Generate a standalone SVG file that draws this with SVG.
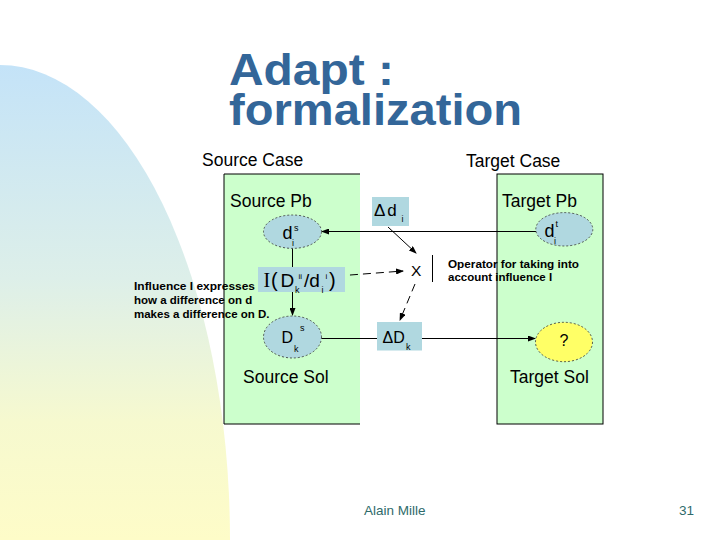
<svg xmlns="http://www.w3.org/2000/svg" width="720" height="540" viewBox="0 0 720 540">
<defs>
<linearGradient id="bg" x1="0" y1="0" x2="0" y2="1">
<stop offset="0" stop-color="#c4e3f8"/>
<stop offset="0.45" stop-color="#ddefe9"/>
<stop offset="0.75" stop-color="#f6f9cf"/>
<stop offset="1" stop-color="#fefcc8"/>
</linearGradient>
<marker id="ah" markerWidth="8" markerHeight="6" refX="7" refY="3" orient="auto" markerUnits="userSpaceOnUse">
<path d="M0,0 L8,3 L0,6 z" fill="#000"/>
</marker>
<style>
text{font-family:"Liberation Sans",Arial,sans-serif;fill:#000}
.title{font-size:44px;font-weight:bold;fill:#336699}
.lbl{font-size:17.5px}
.note{font-size:11.5px;font-weight:bold}
.foot{font-size:13.5px;fill:#2f6b6b}
.bx{fill:#b0d8e0}
.el{fill:#b0d8e0;stroke:#333;stroke-width:0.8;stroke-dasharray:2 2}
.case{fill:#ccffcc;stroke:#000;stroke-width:1}
.c{stroke:#000;stroke-width:1;fill:none}
.d{stroke-dasharray:8 5}
.sym{font-size:18px}
.sub{font-size:9px}
.sup{font-size:8px}
</style>
</defs>
<path d="M0,65 A230,475 0 0 1 230,540 L0,540 Z" fill="url(#bg)"/>
<g id="title">
<text class="title" x="229" y="85" textLength="165" lengthAdjust="spacingAndGlyphs">Adapt :</text>
<text class="title" x="229" y="125" textLength="293" lengthAdjust="spacingAndGlyphs">formalization</text>
</g>
<g id="source-case">
<text class="lbl" x="202" y="166">Source Case</text>
<path d="M360,174 H224 V424 H360" fill="#ccffcc" stroke="#000" stroke-width="1"/>
<text class="lbl" x="230" y="207">Source Pb</text>
<text class="lbl" x="243" y="383">Source Sol</text>
</g>
<g id="target-case">
<text class="lbl" x="466" y="167">Target Case</text>
<rect class="case" x="497" y="174" width="106" height="250"/>
<text class="lbl" x="502" y="207">Target Pb</text>
<text class="lbl" x="510" y="383">Target Sol</text>
</g>
<g id="connectors">
<line class="c" x1="536" y1="231.5" x2="322" y2="231.5" marker-end="url(#ah)"/>
<line class="c" x1="292.5" y1="248" x2="292.5" y2="267"/>
<line class="c" x1="292.5" y1="292" x2="292.5" y2="315" marker-end="url(#ah)"/>
<line class="c" x1="321.5" y1="338.5" x2="377" y2="338.5"/>
<line class="c" x1="422" y1="338.5" x2="535" y2="338.5" marker-end="url(#ah)"/>
<line class="c" x1="388" y1="227" x2="416" y2="253" marker-end="url(#ah)"/>
<line class="c d" x1="337" y1="276" x2="403" y2="271" marker-end="url(#ah)"/>
<line class="c d" x1="415" y1="284" x2="400" y2="320" marker-end="url(#ah)"/>
<line class="c" x1="432.5" y1="255" x2="432.5" y2="282"/>
</g>
<g id="dis">
<ellipse class="el" cx="292.5" cy="231.7" rx="29" ry="16.7"/>
<text class="sym" x="282.5" y="239">d</text>
<text class="sub" x="292" y="246">i</text>
<text class="sub" x="294" y="231">s</text>
</g>
<g id="dit">
<ellipse class="el" cx="564.3" cy="229.3" rx="28.5" ry="16.7"/>
<text class="sym" x="544.5" y="237">d</text>
<text class="sub" x="554" y="244">i</text>
<text class="sub" x="555.5" y="227">t</text>
</g>
<g id="influence">
<rect class="bx" x="258" y="267" width="87" height="25"/>
<text x="263.5" y="287" font-size="20" style="font-family:'Liberation Serif',serif">I</text>
<text x="271" y="287" font-size="20">(</text>
<text x="280.5" y="287" font-size="19">D</text>
<text class="sub" x="295" y="293">k</text>
<text class="sup" x="298.5" y="279">ii</text>
<text x="304" y="287" font-size="19">/d</text>
<text class="sub" x="321.5" y="293">i</text>
<text class="sup" x="325.5" y="279">i</text>
<text x="329" y="287" font-size="20">)</text>
</g>
<g id="dks">
<ellipse class="el" cx="292.5" cy="337" rx="29" ry="21"/>
<text x="281.5" y="343" font-size="16">D</text>
<text class="sub" x="294" y="352">k</text>
<text class="sub" x="300" y="331">s</text>
</g>
<g id="delta-di">
<rect class="bx" x="372" y="197" width="37" height="29"/>
<text x="374" y="216" font-size="17" letter-spacing="2">Δd</text>
<text class="sub" x="401.5" y="222">i</text>
</g>
<g id="x-op">
<text x="411" y="276" font-size="15.5">X</text>
</g>
<g id="delta-dk">
<rect class="bx" x="377" y="322" width="45" height="28.5"/>
<text x="382.5" y="343" font-size="16">ΔD</text>
<text class="sub" x="406" y="350">k</text>
</g>
<g id="target-sol">
<ellipse cx="564" cy="342" rx="28.5" ry="19.7" fill="#ffff66" stroke="#333" stroke-width="0.8" stroke-dasharray="2 2"/>
<text x="559.5" y="346" font-size="16">?</text>
</g>
<g id="notes">
<text class="note" x="448" y="267.5" textLength="131" lengthAdjust="spacingAndGlyphs">Operator for taking into</text>
<text class="note" x="448" y="280.5">account influence I</text>
<text class="note" x="134" y="290" textLength="121" lengthAdjust="spacingAndGlyphs">Influence I expresses</text>
<text class="note" x="134" y="304">how a difference on d</text>
<text class="note" x="134" y="318">makes a difference on D.</text>
</g>
<g id="footer">
<text class="foot" x="364" y="515">Alain Mille</text>
<text class="foot" x="679" y="515">31</text>
</g>
</svg>
